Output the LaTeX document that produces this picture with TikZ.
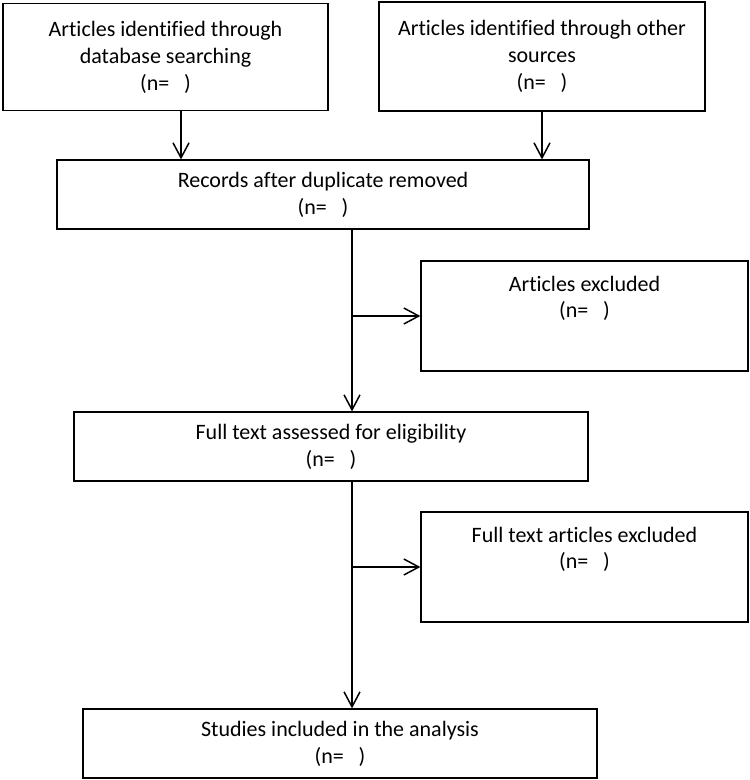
\documentclass[tikz,border=0pt]{standalone}
\usepackage{fontspec}
\setmainfont{Carlito}[Ligatures=NoCommon]
\usetikzlibrary{arrows.meta}

\begin{document}
\begin{tikzpicture}[x=1pt,y=-1pt,
    box/.style={draw,line width=1.2pt,align=center,inner sep=0pt,font=\fontsize{22}{27}\selectfont},
    txt/.style={align=center,inner sep=0pt,font=\fontsize{22}{26}\selectfont},
    link/.style={line width=1.5pt,-{Straight Barb[length=15pt,width=16pt,line width=1.5pt]}}]
  \useasboundingbox (0,0) rectangle (750,780);
  \node[box,minimum width=325,minimum height=107] (id-db) at (165.5,57) {Articles identified through\\database searching\\(n=\ \ \ )};
  \node[box,minimum width=326,minimum height=109] (id-other) at (542,56.5) {Articles identified through other\\sources\\(n=\ \ \ )};
  \node[box,minimum width=532,minimum height=69] (rec) at (323,194.5) {Records after duplicate removed\\(n=\ \ \ )};
  \node[box,minimum width=327,minimum height=110] (ex-1) at (584.5,316) {};
  \node[txt,anchor=north] (ex-1-t) at ([yshift=-16]ex-1.north) {Articles excluded\\(n=\ \ \ )};
  \node[box,minimum width=514,minimum height=69] (full) at (331,446.5) {Full text assessed for eligibility\\(n=\ \ \ )};
  \node[box,minimum width=327,minimum height=110] (ex-2) at (584.5,567) {};
  \node[txt,anchor=north] (ex-2-t) at ([yshift=-16]ex-2.north) {Full text articles excluded\\(n=\ \ \ )};
  \node[box,minimum width=514,minimum height=69] (inc) at (340,743.5) {Studies included in the analysis\\(n=\ \ \ )};
  \coordinate (a-db) at (181,0);
  \coordinate (trunk) at (352,0);
  \draw[link] (a-db |- id-db.south) -- (a-db |- rec.north);
  \draw[link] (id-other.south) -- (id-other.south |- rec.north);
  \draw[link] (trunk |- rec.south) -- (trunk |- full.north);
  \draw[link] (trunk |- ex-1.west) -- (ex-1.west);
  \draw[link] (trunk |- full.south) -- (trunk |- inc.north);
  \draw[link] (trunk |- ex-2.west) -- (ex-2.west);
\end{tikzpicture}
\end{document}
